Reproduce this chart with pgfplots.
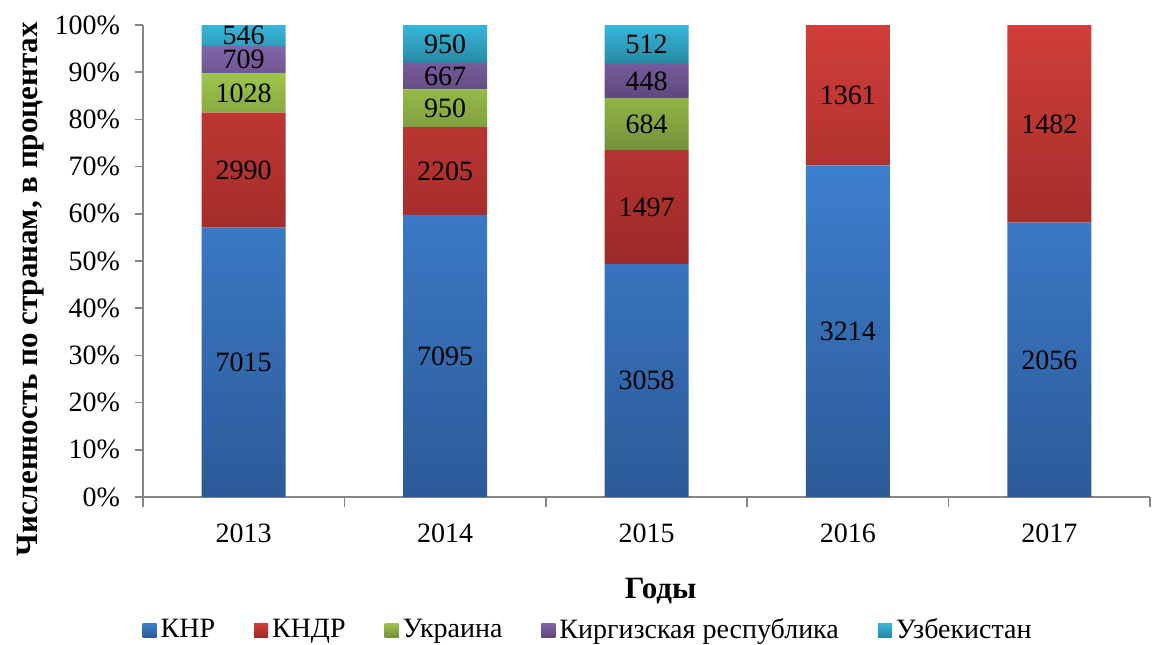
\documentclass[border=0pt]{standalone}
\usepackage{pgfplots}
\pgfplotsset{compat=1.18}
\usepackage{fontspec}
\setmainfont{Liberation Serif}
\definecolor{blueT}{HTML}{3D7FCE}
\definecolor{blueB}{HTML}{2C5A98}
\definecolor{redT}{HTML}{D03E39}
\definecolor{redB}{HTML}{9C2A28}
\definecolor{greenT}{HTML}{9DC54B}
\definecolor{greenB}{HTML}{74903A}
\definecolor{purpT}{HTML}{8265AB}
\definecolor{purpB}{HTML}{5E487C}
\definecolor{cyanT}{HTML}{37B6DA}
\definecolor{cyanB}{HTML}{2888A3}
\definecolor{axgray}{HTML}{868686}
\begin{document}
\begin{tikzpicture}
\begin{axis}[
  name=ax,
  scale only axis,
  width=503.5pt, height=236pt,
  ybar stacked,
  bar width=0.417,
  xmin=-0.5, xmax=4.5,
  ymin=0, ymax=100,
  xtick={0,1,2,3,4},
  xticklabels={2013,2014,2015,2016,2017},
  minor xtick={-0.5,0.5,1.5,2.5,3.5,4.5},
  ytick={0,10,...,100},
  yticklabel={\pgfmathprintnumber{\tick}\%},
  /pgf/number format/assume math mode=true,
  axis x line*=bottom, axis y line*=left,
  axis line style={axgray, line width=0.8pt},
  tick align=outside,
  major tick length=4pt,
  minor tick length=5pt,
  major x tick style={draw=none},
  every tick/.style={axgray, line width=0.8pt},
  tick label style={font=\fontsize{14}{16}\selectfont, text=black},
  xticklabel style={yshift=-6pt},
  yticklabel style={xshift=-4pt},
  ylabel={Численность по странам, в процентах},
  ylabel style={font=\fontsize{15.5}{18}\selectfont\bfseries, at={(ticklabel cs:0.44)}, yshift=-1.5pt},
  xlabel={Годы},
  xlabel style={font=\fontsize{15.5}{18}\selectfont\bfseries, xshift=7pt, yshift=-10.5pt},
  point meta=explicit symbolic,
  nodes near coords,
  every node near coord/.style={font=\fontsize{14}{16}\selectfont, text=black, anchor=center, inner sep=0pt},
  legend columns=5,
  legend style={draw=none, font=\fontsize{14}{16}\selectfont, at={(0.443,-0.282)}, anchor=center, nodes={inner xsep=2pt}, /tikz/every even column/.append style={column sep=17.5pt}},
  legend image code/.code={\path[#1] (0pt,-3.5pt) rectangle (7pt,3.5pt);},
]
\addplot[draw=none, top color=blueT, bottom color=blueB] coordinates {(0,57.088) [7015] (1,59.788) [7095] (2,49.331) [3058] (3,70.251) [3214] (4,58.112) [2056]};
\addplot[draw=none, top color=redT, bottom color=redB] coordinates {(0,24.333) [2990] (1,18.581) [2205] (2,24.149) [1497] (3,29.749) [1361] (4,41.888) [1482]};
\addplot[draw=none, top color=greenT, bottom color=greenB] coordinates {(0,8.366) [1028] (1,8.005) [950] (2,11.034) [684]};
\addplot[draw=none, top color=purpT, bottom color=purpB] coordinates {(0,5.770) [709] (1,5.621) [667] (2,7.227) [448]};
\addplot[draw=none, top color=cyanT, bottom color=cyanB] coordinates {(0,4.443) [546] (1,8.005) [950] (2,8.259) [512]};
\legend{КНР, КНДР, Украина, Киргизская республика, Узбекистан}
\end{axis}
\pgfresetboundingbox
\path ([shift={(-71.5pt,-73.5pt)}]ax.south west) rectangle ([shift={(6pt,12.5pt)}]ax.north east);
\end{tikzpicture}
\end{document}
